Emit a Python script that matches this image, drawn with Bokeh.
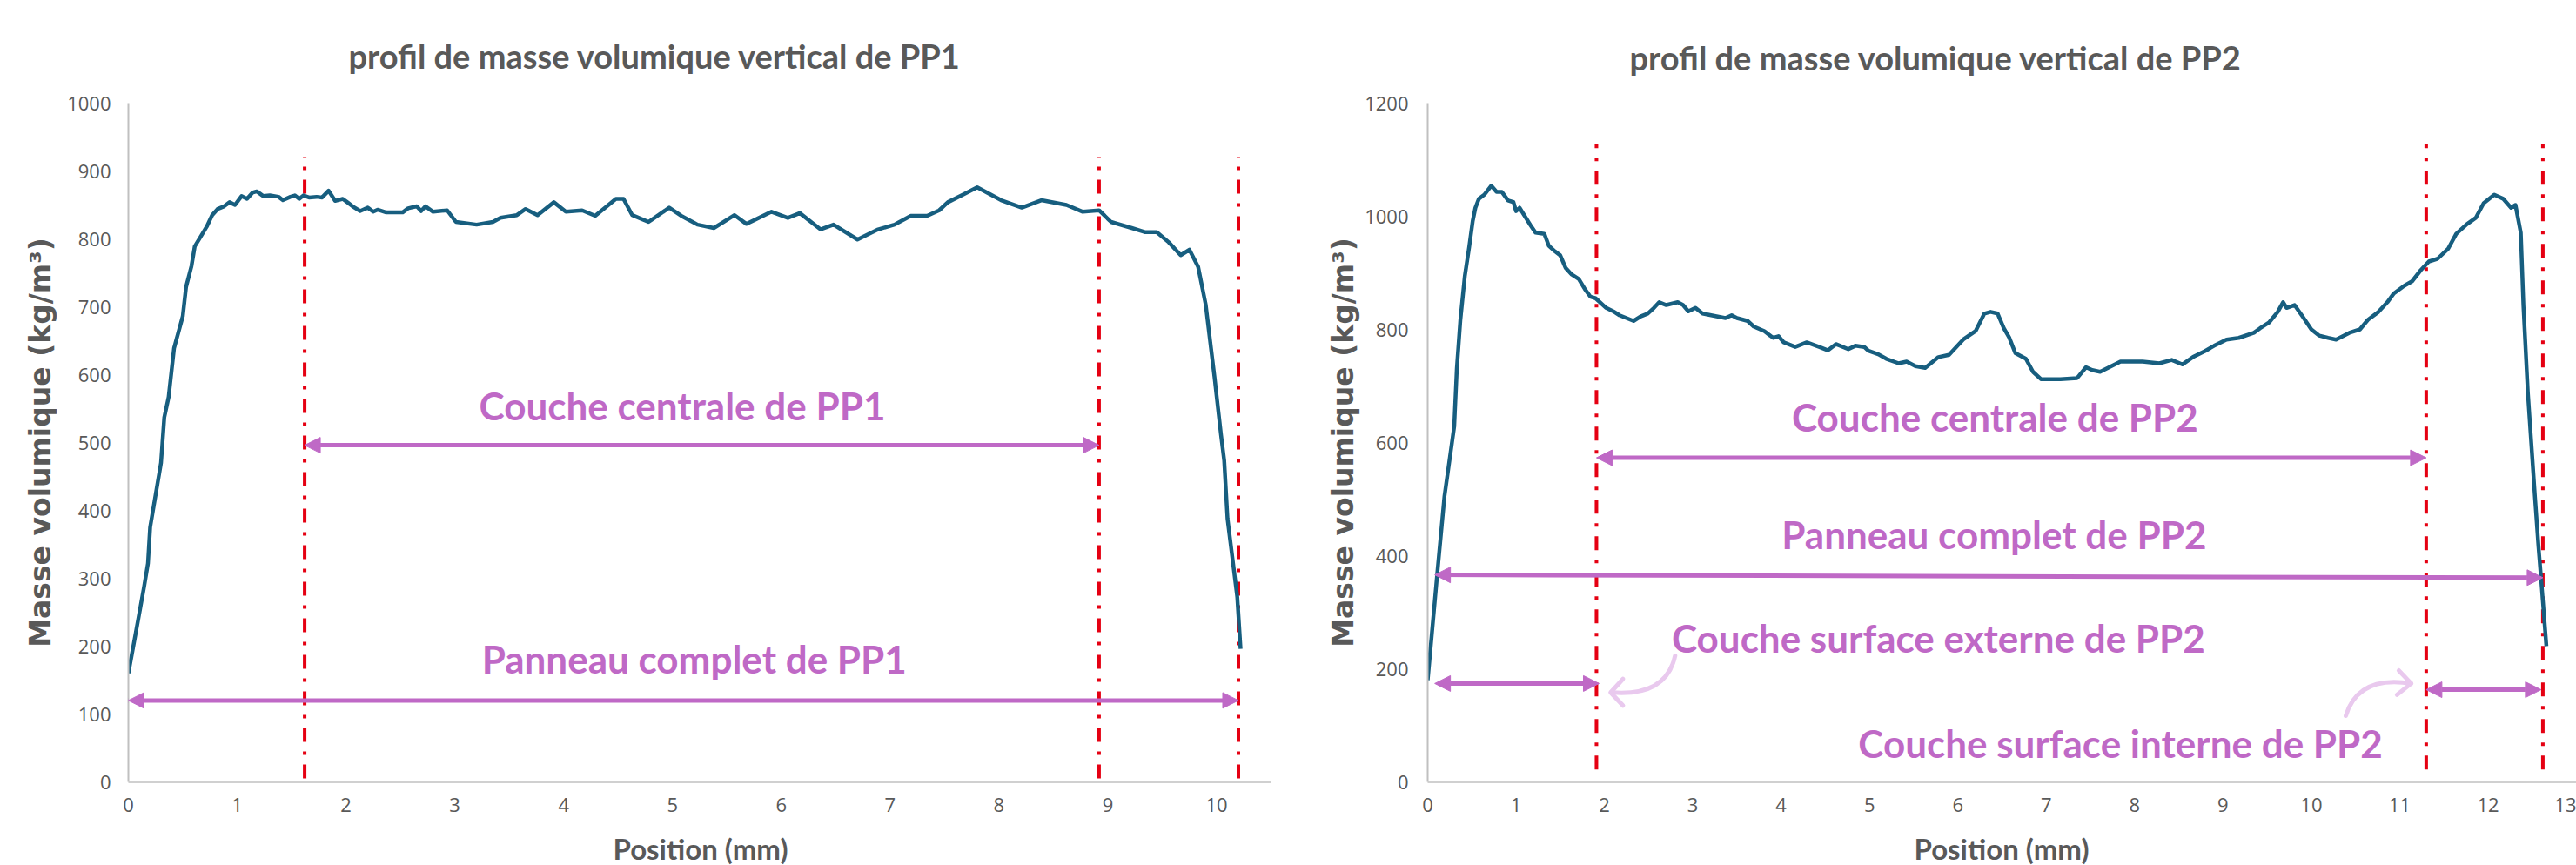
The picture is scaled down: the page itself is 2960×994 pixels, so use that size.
from bokeh.plotting import figure
from bokeh.layouts import row, column
from bokeh.models import Range1d, Arrow, NormalHead, FixedTicker, ColumnDataSource, Div
from bokeh.core.properties import value
from bokeh.embed import file_html
from bokeh.resources import INLINE

# ---------------- data ----------------
pp1_pos = [0, 0.09, 0.145, 0.18, 0.2, 0.3, 0.33, 0.37, 0.42, 0.5, 0.53, 0.58, 0.61, 0.66, 0.72,
           0.77, 0.82, 0.88, 0.93, 0.98, 1.04, 1.09, 1.14, 1.18, 1.24, 1.3, 1.38, 1.42, 1.49, 1.53,
           1.57, 1.61, 1.66, 1.73, 1.78, 1.84, 1.9, 1.97, 2.02, 2.06, 2.13, 2.2, 2.25, 2.29, 2.37,
           2.52, 2.57, 2.65, 2.69, 2.73, 2.8, 2.93, 3.01, 3.2, 3.35, 3.42, 3.57, 3.65, 3.76, 3.91,
           4.02, 4.17, 4.29, 4.48, 4.55, 4.63, 4.78, 4.97, 5.08, 5.23, 5.38, 5.57, 5.68, 5.91, 6.06,
           6.17, 6.36, 6.48, 6.7, 6.89, 7.04, 7.19, 7.34, 7.45, 7.53, 7.68, 7.8, 8.02, 8.21, 8.39,
           8.62, 8.77, 8.92, 9.03, 9.22, 9.34, 9.45, 9.56, 9.67, 9.75, 9.83, 9.9, 9.98, 10.04,
           10.07, 10.1, 10.19, 10.22]
pp1_density = [160, 239, 288, 322, 375, 470, 537, 567, 639, 686, 729, 760, 789, 802, 818,
               835, 844, 848, 854, 850, 863, 859, 868, 870, 863, 864, 862, 857, 862, 864,
               859, 864, 861, 862, 861, 871, 856, 859, 853, 848, 841, 846, 840, 843, 839,
               839, 845, 848, 841, 848, 840, 842, 825, 821, 825, 831, 835, 844, 835, 854,
               840, 842, 834, 859, 859, 835, 825, 846, 834, 821, 816, 835, 822, 840, 831,
               838, 814, 821, 799, 814, 821, 834, 834, 842, 854, 866, 876, 857, 846, 857,
               850, 840, 842, 825, 816, 810, 810, 795, 776, 784, 759, 703, 597, 512,
               473, 388, 272, 196]

pp2_pos = [0, 0.11, 0.19, 0.3, 0.33, 0.37, 0.42, 0.47, 0.51, 0.54, 0.58, 0.64, 0.72, 0.78, 0.84,
           0.91, 0.97, 1.0, 1.04, 1.1, 1.16, 1.22, 1.32, 1.37, 1.44, 1.5, 1.56, 1.63, 1.71, 1.78,
           1.84, 1.9, 2.02, 2.1, 2.17, 2.33, 2.41, 2.49, 2.56, 2.62, 2.7, 2.83, 2.89, 2.95, 3.03,
           3.11, 3.27, 3.37, 3.44, 3.5, 3.62, 3.69, 3.81, 3.91, 3.97, 4.03, 4.16, 4.29, 4.43, 4.53,
           4.62, 4.76, 4.84, 4.94, 4.99, 5.1, 5.19, 5.33, 5.42, 5.52, 5.63, 5.78, 5.9, 6.06, 6.2,
           6.3, 6.37, 6.45, 6.52, 6.58, 6.65, 6.77, 6.85, 6.94, 7.16, 7.35, 7.45, 7.52, 7.61, 7.84,
           8.09, 8.28, 8.42, 8.54, 8.66, 8.8, 8.9, 9.04, 9.18, 9.35, 9.42, 9.52, 9.62, 9.68, 9.72,
           9.81, 9.9, 10.0, 10.09, 10.19, 10.28, 10.43, 10.55, 10.64, 10.76, 10.86, 10.93, 11.05,
           11.14, 11.24, 11.33, 11.43, 11.55, 11.64, 11.76, 11.86, 11.95, 12.07, 12.17, 12.26,
           12.31, 12.37, 12.4, 12.45, 12.53, 12.57, 12.61, 12.66]
pp2_density = [180, 371, 505, 628, 731, 817, 894, 946, 992, 1015, 1031, 1038, 1054, 1043, 1043,
               1028, 1025, 1009, 1015, 1000, 985, 971, 969, 948, 938, 931, 909, 897, 889, 871,
               858, 855, 838, 832, 825, 815, 823, 828, 838, 848, 843, 848, 843, 832, 838,
               828, 823, 820, 825, 820, 815, 805, 797, 785, 788, 777, 769, 777, 769, 763,
               774, 765, 771, 769, 762, 756, 748, 740, 743, 735, 732, 751, 755, 782, 797,
               828, 831, 828, 802, 786, 758, 748, 725, 712, 712, 714, 733, 728, 725, 743,
               743, 740, 746, 738, 751, 762, 771, 782, 785, 794, 802, 812, 831, 848, 838,
               843, 823, 800, 789, 785, 782, 794, 800, 817, 831, 848, 863, 877,
               885, 905, 920, 925, 943, 969, 986, 997, 1023, 1038, 1031, 1015,
               1020, 971, 843, 689, 505, 417, 340, 240]

pp1_x_ticks = list(range(0, 11))
pp1_y_ticks = list(range(0, 1001, 100))
pp2_x_ticks = list(range(0, 14))
pp2_y_ticks = list(range(0, 1201, 200))

x_title = "Position (mm)"
y_title = "Masse volumique (kg/m³)"

# layer limits (mm)
pp1_limits = [1.62, 8.92, 10.2]
pp2_limits = [1.91, 11.3, 12.62]

# annotations
pp1_labels = ["Couche centrale de PP1", "Panneau complet de PP1"]
pp1_label_x = [5.09, 5.2]
pp1_label_y = [554, 182]
pp1_arrow_x0 = [1.62, 0.0]
pp1_arrow_x1 = [8.92, 10.2]
pp1_arrow_y0 = [496, 120]
pp1_arrow_y1 = [496, 120]

pp2_labels = ["Couche centrale de PP2", "Panneau complet de PP2",
              "Couche surface externe de PP2", "Couche surface interne de PP2"]
pp2_label_x = [6.42, 6.41, 5.78, 7.84]
pp2_label_y = [646, 438, 255, 69]
pp2_arrow_x0 = [1.91, 0.08, 0.08, 11.3]
pp2_arrow_x1 = [11.3, 12.62, 1.94, 12.6]
pp2_arrow_y0 = [573, 366, 174, 163]
pp2_arrow_y1 = [573, 361, 174, 163]

# hand-drawn pointer curves (start, control, end) and chevrons
pp2_curve_x0 = [2.80, 10.39]
pp2_curve_y0 = [223, 117]
pp2_curve_cx = [2.70, 10.53]
pp2_curve_cy = [151, 189]
pp2_curve_x1 = [2.09, 11.13]
pp2_curve_y1 = [158, 174]
pp2_chevron_xs = [[2.21, 2.07, 2.21], [10.99, 11.13, 10.97]]
pp2_chevron_ys = [[182, 158, 135], [197, 174, 154]]

CURVE = "#175E7F"
RED = "#E50012"
VIOLET = "#BF69C6"
LIGHT_VIOLET = "#E9C9EE"
GREY = "#595959"

FIG_H = 950
DIV_H = 44


def make_fig(title, pos, dens, xmax, ymax, xticks, yticks, limits, lim_y0, lim_y1,
             labels, lx, ly, ax0, ax1, ay0, ay1, width, mb_left, mb_right, mb_bottom,
             title_offset, title_valign, title_standoff, ylab_standoff, ytick_standoff):
    p = figure(width=width, height=FIG_H, output_backend="svg", toolbar_location=None,
               x_range=Range1d(0, xmax), y_range=Range1d(0, ymax),
               min_border_left=mb_left, min_border_right=mb_right,
               min_border_top=118, min_border_bottom=mb_bottom,
               background_fill_color="white", border_fill_color="white")
    p.outline_line_color = None
    p.xgrid.visible = False
    p.ygrid.visible = False

    p.title.text = title
    p.title.align = "left"
    p.title.offset = title_offset
    p.title.vertical_align = title_valign
    p.title.standoff = title_standoff
    p.title.text_font = "Lato"
    p.title.text_font_style = "bold"
    p.title.text_font_size = "38px"
    p.title.text_color = GREY

    p.xaxis.ticker = FixedTicker(ticks=xticks)
    p.yaxis.ticker = FixedTicker(ticks=yticks)
    for ax in (p.xaxis[0], p.yaxis[0]):
        ax.major_tick_line_color = None
        ax.minor_tick_line_color = None
        ax.major_tick_out = 0
        ax.major_tick_in = 0
        ax.minor_tick_out = 0
        ax.major_label_text_font = "Open Sans"
        ax.major_label_text_font_size = "22px"
        ax.major_label_text_color = GREY
        ax.axis_label_text_color = GREY
        ax.axis_label_text_font_style = "bold"
    p.xaxis.axis_line_color = "#D0D0D0"
    p.xaxis.axis_line_width = 3
    p.yaxis.axis_line_color = "#C0C0C0"
    p.yaxis.axis_line_width = 2
    p.xaxis.major_label_standoff = 18
    p.yaxis.major_label_standoff = ytick_standoff

    p.yaxis.axis_label = y_title
    p.yaxis.axis_label_text_font = "DejaVu Sans"
    p.yaxis.axis_label_text_font_size = "33px"
    p.yaxis.axis_label_standoff = ylab_standoff

    # layer boundaries
    p.segment(x0=limits, y0=[lim_y0] * len(limits), x1=limits, y1=[lim_y1] * len(limits),
              line_color=RED, line_width=4, line_dash="16 11 4 11")

    # density profile
    p.line(pos, dens, line_color=CURVE, line_width=4.5, line_join="round")

    # double arrows
    src = ColumnDataSource(dict(x0=ax0, x1=ax1, y0=ay0, y1=ay1))
    p.add_layout(Arrow(source=src, x_start="x0", y_start="y0", x_end="x1", y_end="y1",
                       line_color=VIOLET, line_width=5,
                       start=NormalHead(size=18, fill_color=VIOLET, line_color=VIOLET, line_width=1),
                       end=NormalHead(size=18, fill_color=VIOLET, line_color=VIOLET, line_width=1)))

    p.text(x=lx, y=ly, text=labels, text_align="center", text_baseline="middle",
           text_font=value("Lato"), text_font_style="bold", text_font_size="44px",
           text_color=VIOLET)
    return p


def x_title_div(width, pad_left):
    html = ('<div style="width:%dpx;padding-left:%dpx;padding-top:6px;box-sizing:border-box;'
            'text-align:center;font-family:Lato;font-weight:bold;font-size:33px;'
            'line-height:38px;color:%s;white-space:nowrap;margin:0">%s</div>'
            % (width, pad_left, GREY, x_title))
    return Div(text=html, width=width, height=DIV_H, margin=0)


p1 = make_fig("profil de masse volumique vertical de PP1", pp1_pos, pp1_density,
              10.5, 1000, pp1_x_ticks, pp1_y_ticks, pp1_limits, 5, 921,
              pp1_labels, pp1_label_x, pp1_label_y,
              pp1_arrow_x0, pp1_arrow_x1, pp1_arrow_y0, pp1_arrow_y1,
              width=1500, mb_left=147, mb_right=40, mb_bottom=50,
              title_offset=253, title_valign="top", title_standoff=59,
              ylab_standoff=8, ytick_standoff=20)

p2 = make_fig("profil de masse volumique vertical de PP2", pp2_pos, pp2_density,
              13.0, 1200, pp2_x_ticks, pp2_y_ticks, pp2_limits, 22, 1128,
              pp2_labels, pp2_label_x, pp2_label_y,
              pp2_arrow_x0, pp2_arrow_x1, pp2_arrow_y0, pp2_arrow_y1,
              width=1460, mb_left=140, mb_right=0, mb_bottom=52,
              title_offset=232, title_valign="bottom", title_standoff=60,
              ylab_standoff=2, ytick_standoff=22)

p2.quadratic(x0=pp2_curve_x0, y0=pp2_curve_y0, x1=pp2_curve_x1, y1=pp2_curve_y1,
             cx=pp2_curve_cx, cy=pp2_curve_cy, line_color=LIGHT_VIOLET, line_width=5,
             line_cap="round")
p2.multi_line(xs=pp2_chevron_xs, ys=pp2_chevron_ys, line_color=LIGHT_VIOLET, line_width=5,
              line_cap="round", line_join="round")

d1 = x_title_div(1500, 110)
d2 = x_title_div(1460, 140)

layout = column(row(p1, p2, spacing=0), row(d1, d2, spacing=0), spacing=0)
open("out.html", "w").write(file_html(layout, INLINE))
